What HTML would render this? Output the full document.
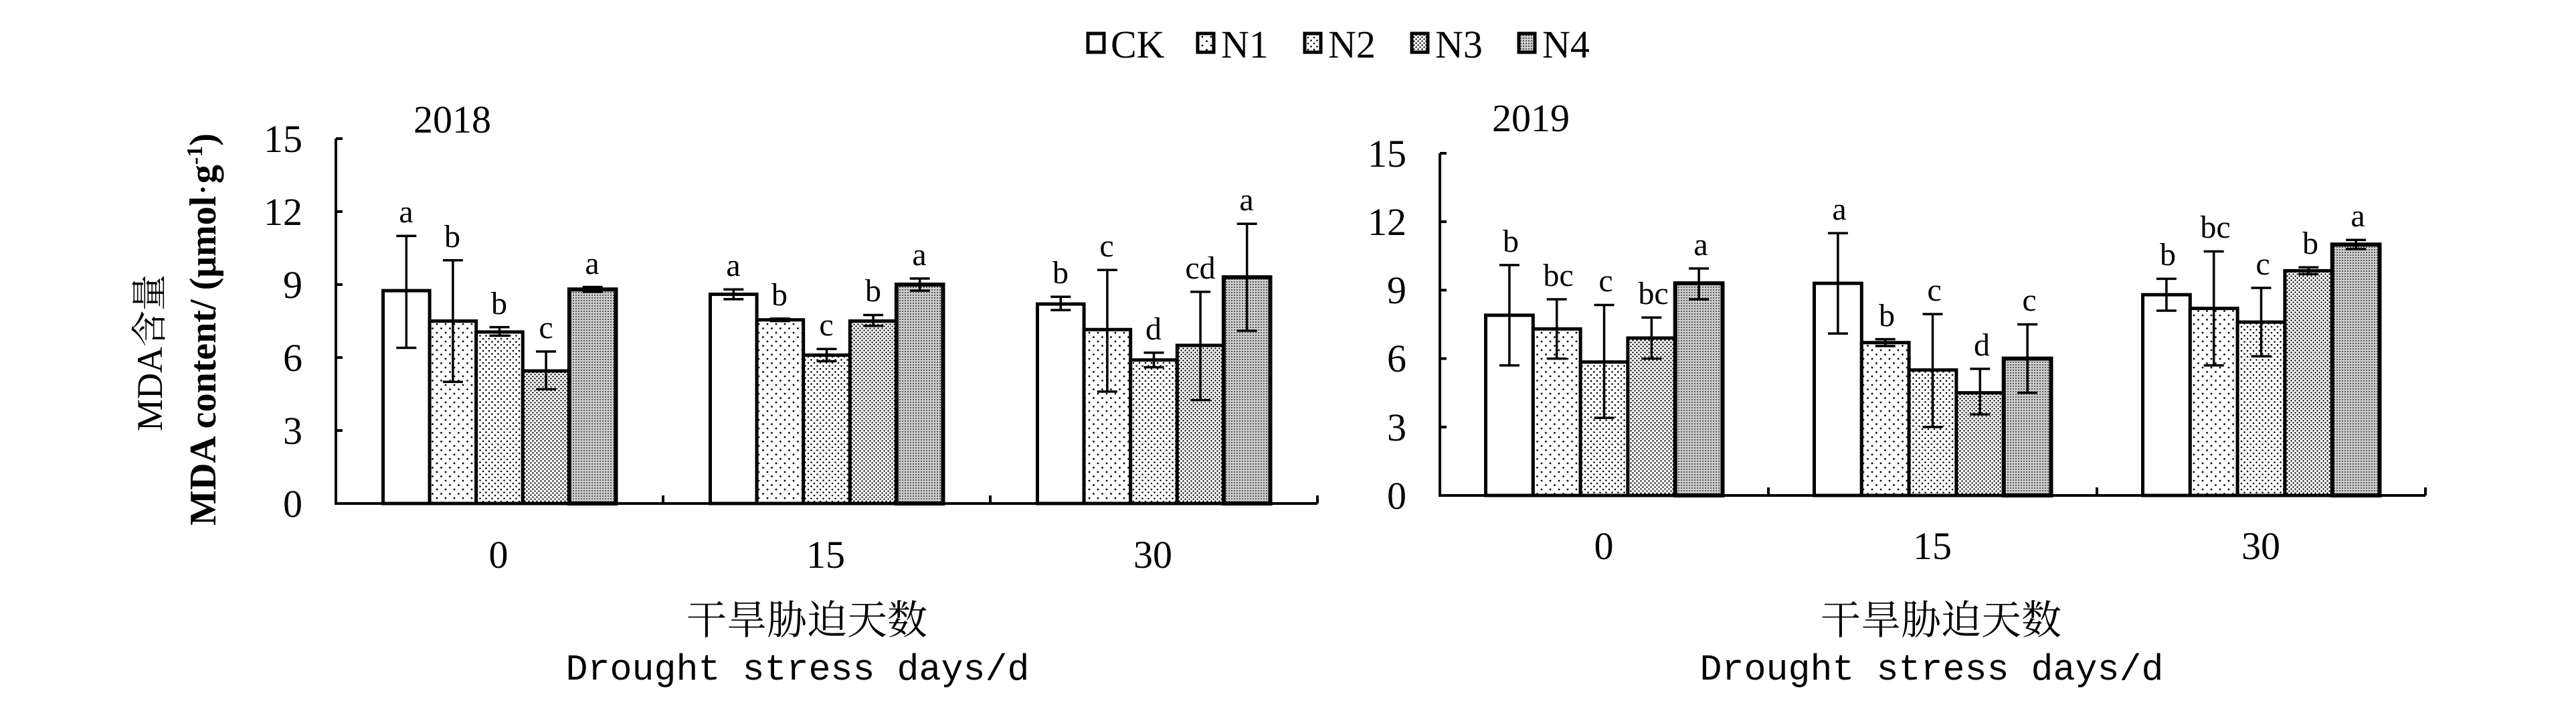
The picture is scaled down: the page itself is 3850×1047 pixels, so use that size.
<!DOCTYPE html>
<html><head><meta charset="utf-8"><style>
html,body{margin:0;padding:0;background:#fff}
svg{display:block}
text{font-family:"Liberation Serif","Noto Serif CJK SC",serif;fill:#000}
text.m{font-family:"Liberation Mono","Noto Sans CJK SC",monospace;font-size:55px}
.t{font-size:58px}
.l{font-size:48px}
</style></head><body>
<svg id="s" width="3850" height="1047" viewBox="0 0 3850 1047" xmlns="http://www.w3.org/2000/svg">
<defs>
<pattern id="p1" width="13" height="13" patternUnits="userSpaceOnUse"><rect width="13" height="13" fill="#fff"/><circle cx="3" cy="3" r="1.4" fill="#000"/><circle cx="9.5" cy="9.5" r="1.4" fill="#000"/></pattern>
<pattern id="p2" width="9" height="9" patternUnits="userSpaceOnUse"><rect width="9" height="9" fill="#fff"/><circle cx="2" cy="2" r="1.3" fill="#000"/><circle cx="6.5" cy="6.5" r="1.3" fill="#000"/></pattern>
<pattern id="p3" width="6" height="6" patternUnits="userSpaceOnUse"><rect width="6" height="6" fill="#fff"/><circle cx="1.5" cy="1.5" r="1.2" fill="#000"/><circle cx="4.5" cy="4.5" r="1.2" fill="#000"/></pattern>
<pattern id="p4" width="4" height="4" patternUnits="userSpaceOnUse"><rect width="4" height="4" fill="#d0d0d0"/><rect x="0" y="0" width="2" height="2" fill="#555"/></pattern>
</defs>
<g id="g"></g>
<text class="t" x="1660" y="86">CK</text>
<text class="t" x="1825" y="86">N1</text>
<text class="t" x="1985" y="86">N2</text>
<text class="t" x="2145" y="86">N3</text>
<text class="t" x="2305" y="86">N4</text>
<text class="t" x="618" y="198">2018</text>
<text class="t" x="2230" y="196">2019</text>
<g class="t" text-anchor="end">
<text x="452" y="227">15</text><text x="452" y="336">12</text><text x="452" y="445">9</text><text x="452" y="554">6</text><text x="452" y="663">3</text><text x="452" y="772">0</text>
<text x="2102" y="249">15</text><text x="2102" y="351">12</text><text x="2102" y="453">9</text><text x="2102" y="555">6</text><text x="2102" y="658">3</text><text x="2102" y="760">0</text>
</g>
<g class="t" text-anchor="middle">
<text x="745" y="848">0</text><text x="1234" y="848">15</text><text x="1723" y="848">30</text>
<text x="2397" y="835">0</text><text x="2888" y="835">15</text><text x="3379" y="835">30</text>
<text x="1206" y="947" style="font-size:60px">干旱胁迫天数</text><text x="2901" y="947" style="font-size:60px">干旱胁迫天数</text>
</g>
<text class="m" x="1192" y="1015" text-anchor="middle">Drought stress days/d</text>
<text class="m" x="2887" y="1015" text-anchor="middle">Drought stress days/d</text>
<text transform="translate(242,527) rotate(-90)" text-anchor="middle" style="font-size:54px">MDA含量</text>
<text transform="translate(322,492) rotate(-90)" text-anchor="middle" style="font-size:56px;font-weight:bold">MDA content/ (μmol<tspan font-weight="normal">·</tspan>g<tspan dy="-20" font-size="34">-1</tspan><tspan dy="20">)</tspan></text>
<g class="l" text-anchor="middle">
<text x="607" y="332">a</text><text x="676" y="369">b</text><text x="746" y="469">b</text><text x="816" y="505">c</text><text x="885" y="409">a</text>
<text x="1096" y="412">a</text><text x="1165" y="456">b</text><text x="1235" y="501">c</text><text x="1305" y="450">b</text><text x="1374" y="396">a</text>
<text x="1585" y="423">b</text><text x="1654" y="383">c</text><text x="1724" y="507">d</text><text x="1794" y="416">cd</text><text x="1863" y="314">a</text>
<text x="2258" y="376">b</text><text x="2329" y="427">bc</text><text x="2400" y="435">c</text><text x="2471" y="454">bc</text><text x="2542" y="381">a</text>
<text x="2749" y="328">a</text><text x="2820" y="487">b</text><text x="2891" y="449">c</text><text x="2962" y="531">d</text><text x="3033" y="464">c</text>
<text x="3240" y="396">b</text><text x="3311" y="355">bc</text><text x="3382" y="410">c</text><text x="3453" y="379">b</text><text x="3524" y="338">a</text>
</g>
</svg>
<script>
var g=document.getElementById('g'),h='';
var fills=['#fff','url(#p1)','url(#p2)','url(#p3)','url(#p4)'];
function chart(ax,zero,top,sc,bw,cw,ends,data){
 data.forEach(function(grp,gi){grp.forEach(function(d,i){
  var x=ax+(cw-5*bw)/2+gi*cw+i*bw, y=zero-d[0]*sc;
  h+='<rect x="'+x+'" y="'+y+'" width="'+bw+'" height="'+(zero-y)+'" fill="'+fills[i]+'" stroke="#000" stroke-width="'+(i==4?6:5)+'"/>';
 });});
 data.forEach(function(grp,gi){grp.forEach(function(d,i){
  var cx=ax+(cw-5*bw)/2+gi*cw+i*bw+bw/2, y1=zero-d[1]*sc,y2=zero-d[2]*sc;
  h+='<path d="M'+cx+' '+y1+'V'+y2+'M'+(cx-15)+' '+y1+'h30M'+(cx-15)+' '+y2+'h30" stroke="#000" stroke-width="3.5" fill="none"/>';
 });});
 h+='<path d="M'+ax+' '+top+'V'+zero+'H'+ends+'" stroke="#000" stroke-width="4" fill="none"/>';
 for(var k=0;k<=5;k++){var yy=zero-k*3*sc;h+='<path d="M'+ax+' '+yy+'h10" stroke="#000" stroke-width="4"/>';}
 for(var k=1;k<=3;k++){var xx=ax+k*cw;h+='<path d="M'+xx+' '+zero+'v-12" stroke="#000" stroke-width="4"/>';}
}
chart(502,752,207,36.33,69.6,489,1969,[
[[8.75,6.4,11],[7.5,5,10],[7.05,6.9,7.25],[5.45,4.7,6.25],[8.8,8.7,8.9]],
[[8.6,8.4,8.8],[7.55,7.5,7.6],[6.1,5.85,6.35],[7.5,7.3,7.75],[9,8.75,9.25]],
[[8.2,7.95,8.5],[7.15,4.6,9.6],[5.9,5.6,6.2],[6.5,4.25,8.7],[9.3,7.1,11.5]]]);
chart(2152,740,229,34.07,70.8,491,3625,[
[[7.9,5.7,10.1],[7.3,6,8.6],[5.85,3.4,8.35],[6.9,6,7.8],[9.3,8.6,9.95]],
[[9.3,7.1,11.5],[6.7,6.55,6.85],[5.5,3,7.95],[4.5,3.55,5.55],[6,4.5,7.5]],
[[8.8,8.1,9.5],[8.2,5.7,10.7],[7.6,6.1,9.1],[9.85,9.7,10],[11,10.8,11.2]]]);
var lx=[1626,1790,1950,2110,2270];
lx.forEach(function(x,i){h+='<rect x="'+x+'" y="50" width="24" height="28" fill="'+fills[i]+'" stroke="#000" stroke-width="5"/>';});
g.innerHTML=h;
</script>
</body></html>
